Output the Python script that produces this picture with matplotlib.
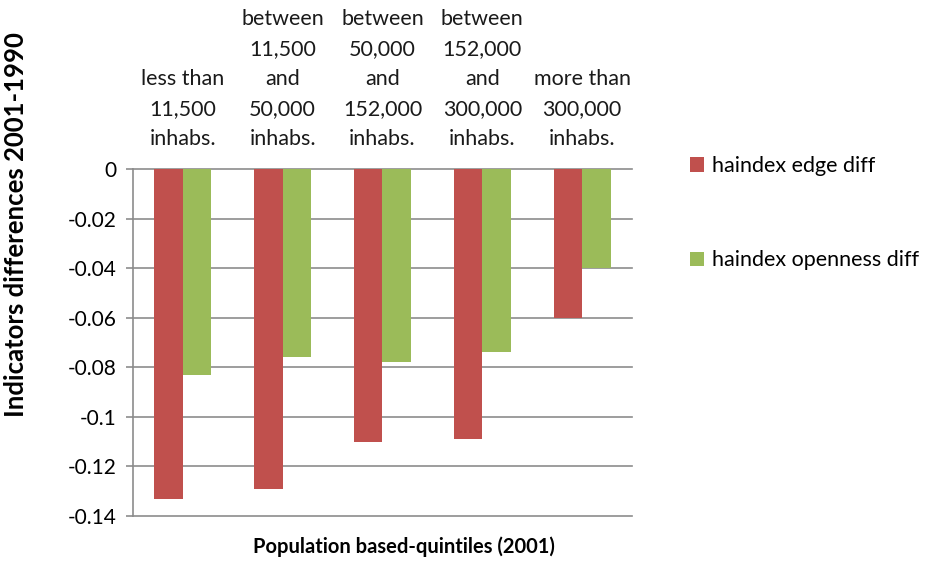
import matplotlib.pyplot as plt
import matplotlib.transforms as mtransforms
import numpy as np

plt.rcParams['font.family'] = ['Lato', 'DejaVu Sans']

categories = [
    'less than\n11,500\ninhabs.',
    'between\n11,500\nand\n50,000\ninhabs.',
    'between\n50,000\nand\n152,000\ninhabs.',
    'between\n152,000\nand\n300,000\ninhabs.',
    'more than\n300,000\ninhabs.',
]
edge_diff = [-0.133, -0.129, -0.110, -0.109, -0.060]
openness_diff = [-0.083, -0.076, -0.078, -0.074, -0.040]
series_names = ['haindex edge diff', 'haindex openness diff']
yticks = [0, -0.02, -0.04, -0.06, -0.08, -0.1, -0.12, -0.14]

red = '#C0504D'
green = '#9BBB59'
grid = '#8C8C8C'

fig = plt.figure(figsize=(9.32, 5.61), dpi=100)
ax = fig.add_axes([133 / 932, 45 / 561, 499 / 932, 347 / 561])

x = np.arange(len(categories))
w = 0.285
b1 = ax.bar(x - w / 2, edge_diff, w, color=red, label=series_names[0], zorder=3)
b2 = ax.bar(x + w / 2, openness_diff, w, color=green, label=series_names[1], zorder=3)

ax.set_xlim(-0.5, len(categories) - 0.5)
ax.set_ylim(-0.14, 0)
ax.set_yticks(yticks)
ax.set_yticklabels(['0' if v == 0 else f'{v:g}' for v in yticks], fontsize=15)
ax.set_xticks([])

for s in ['top', 'right', 'bottom']:
    ax.spines[s].set_visible(False)
ax.spines['left'].set_color(grid)
ax.spines['left'].set_linewidth(1.2)
ax.tick_params(axis='y', length=5, color=grid, width=1.2, pad=7)
for v in yticks:
    ax.axhline(v, color=grid, lw=1.2, zorder=1, clip_on=False)

# category labels sit above the zero line
trans = mtransforms.blended_transform_factory(ax.transData, ax.transAxes)
for xi, lab in zip(x, categories):
    ax.text(xi, 1.058, lab, transform=trans, ha='center', va='bottom',
            fontsize=15.5, linespacing=1.62, multialignment='center',
            color='#1a1a1a')

ax.set_ylabel('Indicators differences 2001-1990', fontsize=18.5, fontweight='bold')
ax.yaxis.set_label_coords(-0.21, 0.841)
fig.text(404 / 932, 14 / 561, 'Population based-quintiles (2001)', ha='center',
         va='center', fontsize=14.5, fontweight='bold')

ax.legend(handles=[b1, b2], loc='upper left', bbox_to_anchor=(690 / 932, 1 - 156 / 561),
          bbox_transform=fig.transFigure, frameon=False, fontsize=15.5,
          handlelength=0.65, handleheight=0.65, handletextpad=0.35, labelspacing=3.45,
          borderaxespad=0, borderpad=0)

fig.savefig('out.png', dpi=100, facecolor='white')
